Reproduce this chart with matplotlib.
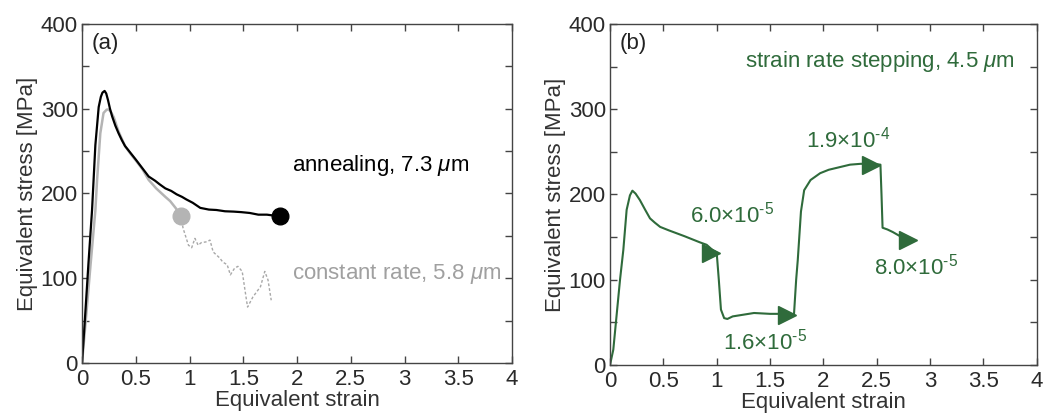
import numpy as np
import matplotlib
matplotlib.use("Agg")
import matplotlib.pyplot as plt
from matplotlib.ticker import MultipleLocator

plt.rcParams['font.family'] = ['Liberation Sans', 'DejaVu Sans']
plt.rcParams['mathtext.fontset'] = 'custom'
plt.rcParams['mathtext.rm'] = 'Liberation Sans'
plt.rcParams['mathtext.it'] = 'Liberation Sans:italic'

# (a) annealing, 7.3 um
anneal_strain = [0, 0.03, 0.06, 0.093, 0.124, 0.155, 0.175, 0.19, 0.21, 0.225, 0.242, 0.26,
                 0.28, 0.31, 0.34, 0.37, 0.40, 0.45, 0.50, 0.56, 0.62, 0.68, 0.72, 0.775,
                 0.83, 0.88, 0.93, 0.97, 1.03, 1.10, 1.18, 1.25, 1.33, 1.41, 1.48, 1.56,
                 1.64, 1.72, 1.78, 1.84]
anneal_stress = [0, 58, 118, 180, 257, 302, 314, 319, 321, 318, 310, 300,
                 291, 280, 271, 263, 256, 248, 240, 230, 220, 215, 211, 206,
                 203, 199, 196, 193, 189, 183, 181, 180.5, 179, 178.6, 178, 177,
                 175, 175, 174, 173.5]

# (a) constant rate, 5.8 um (solid part, then dashed after instability)
const_strain = [0, 0.04, 0.08, 0.124, 0.14, 0.17, 0.20, 0.23, 0.25, 0.27, 0.295, 0.34,
                0.40, 0.45, 0.50, 0.56, 0.62, 0.69, 0.775, 0.82, 0.87, 0.92]
const_stress = [0, 58, 117, 180, 216, 271, 295, 299, 299, 296, 290, 273,
                256, 247, 239, 229, 216, 206, 196, 191, 183, 173.5]
dash_strain = [0.92, 0.94, 0.99, 1.02, 1.05, 1.08, 1.11, 1.16, 1.19, 1.22, 1.28, 1.31,
               1.35, 1.38, 1.42, 1.45, 1.49, 1.53, 1.54, 1.59, 1.66, 1.70, 1.73, 1.76]
dash_stress = [173.5, 159, 139, 136, 147, 139, 142, 143, 145, 131, 124, 119,
               116, 104, 112, 114, 108, 74, 66, 78, 90, 108, 98, 74]

# (b) strain rate stepping, 4.5 um
step_strain = [0, 0.031, 0.094, 0.125, 0.156, 0.187, 0.21, 0.24, 0.28, 0.33, 0.375, 0.42,
               0.47, 0.55, 0.625, 0.70, 0.78, 0.84, 0.906, 0.96, 1.0, 1.02, 1.04, 1.07,
               1.10, 1.15, 1.25, 1.35, 1.50, 1.60, 1.70, 1.725, 1.745, 1.76, 1.79, 1.82,
               1.88, 1.97, 2.05, 2.15, 2.25, 2.35, 2.45, 2.535, 2.545, 2.555, 2.60, 2.65,
               2.72, 2.76]
step_stress = [0, 18, 100, 135, 182, 199, 204.5, 201, 193.5, 182, 172, 167,
               162, 158, 154.5, 151, 147, 144, 141, 135, 132, 100, 65, 55,
               54, 57, 59, 61, 60, 60, 59, 60, 100, 123, 180, 205,
               217, 225, 229, 232, 235, 236, 236, 235, 200, 161, 159, 156,
               151, 149]
arrow_strain = [0.95, 1.66, 2.45, 2.79]
arrow_stress = [131, 58.6, 234.6, 147]
rate_labels = ['$6.0{\\times}10^{\u20105}$', '$1.6{\\times}10^{\u20105}$',
               '$1.9{\\times}10^{\u20104}$', '$8.0{\\times}10^{\u20105}$']
rate_label_x = [0.75, 1.06, 1.84, 2.47]
rate_label_y = [176, 27, 264, 115]

green = '#2f6b3b'
gray = '#b4b4b4'
fs = 16

fig = plt.figure(figsize=(10.49, 4.19), dpi=100)
ax1 = fig.add_axes([0.0782, 0.1337, 0.4099, 0.8091])
ax2 = fig.add_axes([0.5815, 0.1289, 0.4068, 0.8138])


def style(ax):
    ax.set_xlim(0, 4)
    ax.set_ylim(0, 400)
    ax.xaxis.set_major_locator(MultipleLocator(0.5))
    ax.yaxis.set_major_locator(MultipleLocator(100))
    ax.yaxis.set_minor_locator(MultipleLocator(50))
    ax.xaxis.set_major_formatter(plt.FuncFormatter(lambda v, p: f'{v:g}'))
    ax.tick_params(which='both', direction='in', top=True, right=True, length=5,
                   width=1, color='#444444', labelsize=fs, labelcolor='#2a2a2a')
    ax.tick_params(axis='x', pad=4)
    ax.tick_params(axis='y', pad=3)
    for s in ax.spines.values():
        s.set_color('#444444')
        s.set_linewidth(1.0)
    ax.set_xlabel('Equivalent strain', fontsize=fs, color='#333333', labelpad=0)
    ax.set_ylabel('Equivalent stress [MPa]', fontsize=fs, color='#333333', labelpad=2)


style(ax1)
style(ax2)

# panel (a)
ax1.plot(dash_strain, dash_stress, color='#a8a8a8', lw=1.0, ls=(0, (2, 1.5)))
ax1.plot(const_strain, const_stress, color=gray, lw=1.8)
ax1.plot(anneal_strain, anneal_stress, color='black', lw=1.6)
ax1.plot(const_strain[-1], const_stress[-1], 'o', color=gray, ms=12)
ax1.plot(anneal_strain[-1], anneal_stress[-1], 'o', color='black', ms=12)
ax1.text(0.09, 377, '(a)', fontsize=fs, va='center', ha='left', color='#222222')
ax1.text(1.95, 233, r'annealing, 7.3 $\mu$m', fontsize=fs, va='center', ha='left',
         color='black')
ax1.text(1.95, 105, r'constant rate, 5.8 $\mu$m', fontsize=fs, va='center', ha='left',
         color='#a0a0a0')

# panel (b)
ax2.plot(step_strain, step_stress, color=green, lw=1.5)
ax2.plot(arrow_strain, arrow_stress, '>', color=green, ms=13, ls='none')
for lx, ly, lab in zip(rate_label_x, rate_label_y, rate_labels):
    ax2.text(lx, ly, lab, fontsize=fs, color=green, va='center', ha='left')
ax2.text(0.09, 377, '(b)', fontsize=fs, va='center', ha='left', color='#222222')
ax2.text(3.8, 356, r'strain rate stepping, 4.5 $\mu$m', fontsize=fs, va='center',
         ha='right', color=green)

fig.savefig('out.png', dpi=100)
